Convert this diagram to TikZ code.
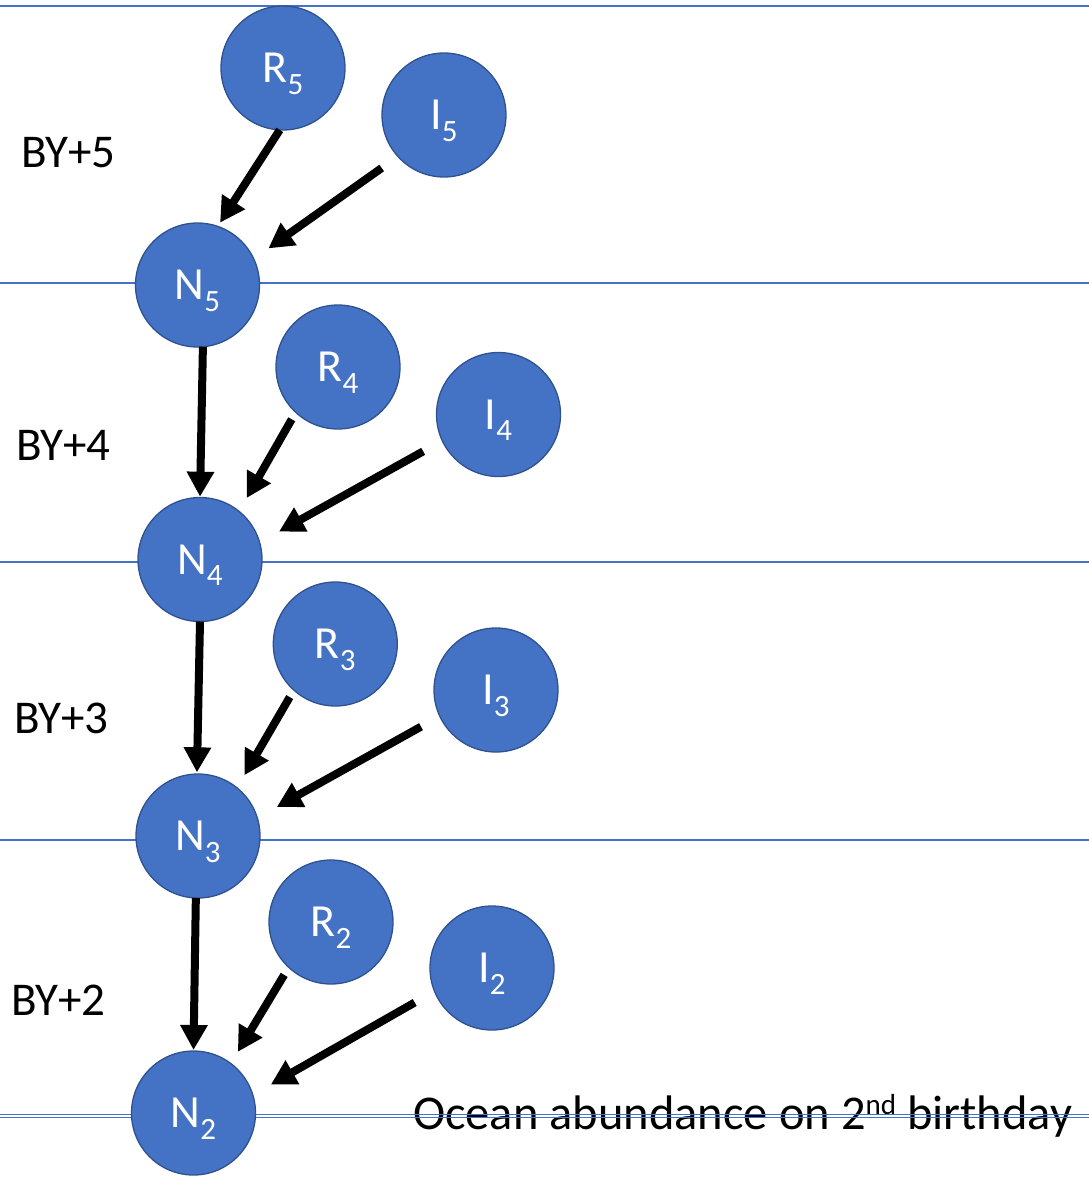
\documentclass[tikz,border=0pt]{standalone}
\usepackage{fontspec}
\setmainfont{Carlito}
\usetikzlibrary{arrows.meta}
\definecolor{nodeblue}{HTML}{4472C4}
\definecolor{rimblue}{HTML}{2F528F}
\newcommand{\stlabel}[2]{\fontsize{46}{55}\selectfont #1\raisebox{-11.7pt}[0pt][0pt]{\fontsize{31}{31}\selectfont #2}}
\tikzset{
  stage/.style={circle, fill=nodeblue, draw=rimblue, line width=1.3pt,
    minimum size=124pt, inner sep=0pt, outer sep=0pt, text=white},
  yearlabel/.style={anchor=base west, inner sep=0pt, font=\fontsize{47}{56}\selectfont},
  divider/.style={nodeblue, line width=1.8pt},
  flow/.style={line width=8pt, -{Triangle[width=26pt,length=25pt]}}
}
\begin{document}
\begin{tikzpicture}[x=1pt, y=-1pt]
\useasboundingbox (0,0) rectangle (1089,1181);

% caption of the bottom line (drawn first so the line runs over it)
\node[yearlabel, font=\fontsize{48.5}{58}\selectfont] (ocean) at (413,1129)
  {Ocean abundance on 2\raisebox{15pt}{\fontsize{29}{29}\selectfont nd} birthday};

% year dividers
\draw[divider] (0,6) -- (1089,6);
\draw[divider] (0,283) -- (1089,283);
\draw[divider] (0,562) -- (1089,562);
\draw[divider] (0,840) -- (1089,840);
\draw[divider, line width=1.6pt] (0,1114.6) -- (1089,1114.6);
\draw[divider, line width=1.6pt] (0,1117.4) -- (1089,1117.4);

% brood-year labels
\node[yearlabel] (by5) at (21,167) {BY+5};
\node[yearlabel] (by4) at (16,460) {BY+4};
\node[yearlabel] (by3) at (14,733) {BY+3};
\node[yearlabel] (by2) at (11,1015) {BY+2};

% stages
\node[stage] (R5) at (283,68) {\stlabel{R}{5}};
\node[stage] (I5) at (444,115) {\stlabel{I}{5}};
\node[stage] (N5) at (197.5,285) {\stlabel{N}{5}};
\node[stage] (R4) at (338,367) {\stlabel{R}{4}};
\node[stage] (I4) at (498.5,414.5) {\stlabel{I}{4}};
\node[stage] (N4) at (200,559.5) {\stlabel{N}{4}};
\node[stage] (R3) at (335.3,644) {\stlabel{R}{3}};
\node[stage] (I3) at (496,690) {\stlabel{I}{3}};
\node[stage] (N3) at (198,836) {\stlabel{N}{3}};
\node[stage] (R2) at (331,922) {\stlabel{R}{2}};
\node[stage] (I2) at (492,968) {\stlabel{I}{2}};
\node[stage] (N2) at (193.5,1113) {\stlabel{N}{2}};

% flows into each abundance node
\draw[flow, shorten >=4.4pt] (R5.267.6) -- (N5.71.1);
\draw[flow, shorten <=19.9pt, shorten >=18pt] (I5.222) -- (N5.25.1);
\draw[flow, shorten >=0.8pt] (N5.275.3) -- (N4.90.9);
\draw[flow, shorten <=8pt, shorten >=15.2pt] (R4.227) -- (N4.51.8);
\draw[flow, shorten <=21.9pt, shorten >=22.2pt] (I4.205.4) -- (N4.16);
\draw[flow, shorten >=1.7pt] (N4.270.9) -- (N3.91.2);
\draw[flow, shorten <=8.1pt, shorten >=14.5pt] (R3.228.4) -- (N3.51.5);
\draw[flow, shorten <=21.5pt, shorten >=22.3pt] (I3.205.1) -- (N3.17.3);
\draw[flow, shorten >=1pt] (N3.268.8) -- (N2.90.2);
\draw[flow, shorten <=8.8pt, shorten >=13.6pt] (R2.227.2) -- (N2.53.2);
\draw[flow, shorten <=22.8pt, shorten >=20.7pt] (I2.202.9) -- (N2.17.4);
\end{tikzpicture}
\end{document}
